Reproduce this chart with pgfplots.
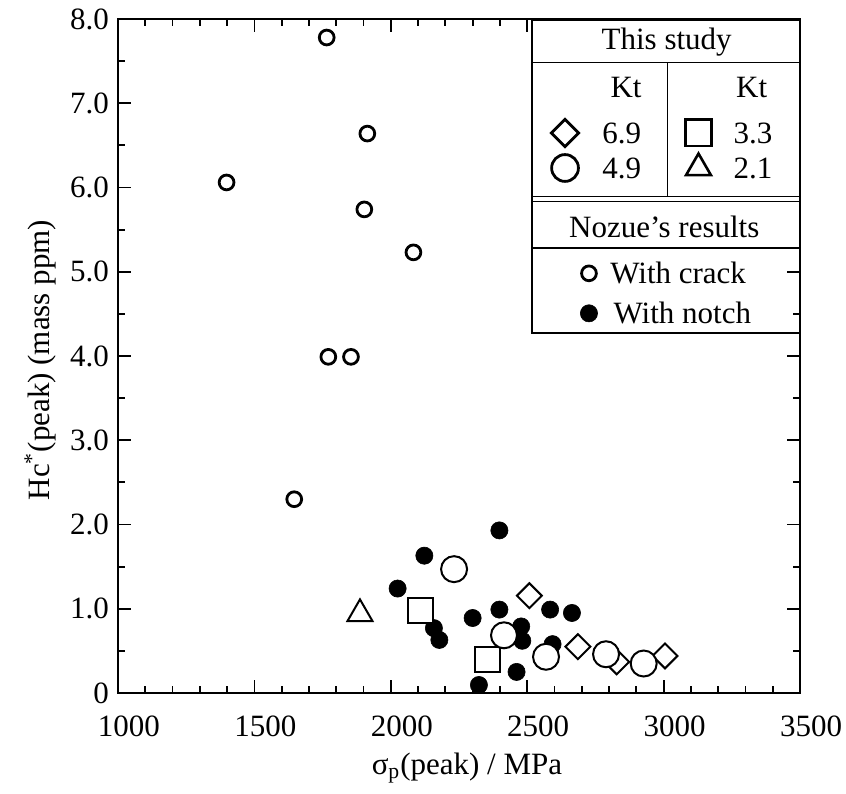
\documentclass[border=0pt]{standalone}
\usepackage{pgfplots}
\pgfplotsset{compat=1.18}
\usepackage{fontspec}
\setmainfont{Liberation Serif}

\pgfplotsset{
  myleg/.style={legend image code/.code={%
    \draw[##1] plot coordinates {(0pt,0pt)};
    \path[draw=none, fill=none] (-8pt,-8pt) rectangle (8pt,8pt);}},
  legbase/.style={legend style={draw=none, fill=none, inner sep=0pt, outer sep=0pt,
    anchor=north west, nodes={inner sep=0pt},
    /tikz/every odd column/.append style={column sep=0pt}}},
  hiddenleg/.style={scale only axis, width=341pt, height=337pt, hide axis,
    xmin=0, xmax=1, ymin=0, ymax=1, legbase},
}

\begin{document}
\begin{tikzpicture}
\begin{axis}[
  scale only axis, width=341pt, height=337pt,
  xmin=1000, xmax=3500, ymin=0, ymax=8,
  xtick={1000,1500,2000,2500,3000,3500},
  xticklabels={1000,1500,2000,2500,3000,3500},
  ytick={0,1,2,3,4,5,6,7,8},
  yticklabels={0,1.0,2.0,3.0,4.0,5.0,6.0,7.0,8.0},
  minor x tick num=4, minor y tick num=1,
  tick align=inside,
  major tick length=6.5pt, minor tick length=3.5pt,
  every tick/.style={black, line width=0.9pt},
  axis line style={line width=1pt},
  tick label style={font=\fontsize{15.5}{18}\selectfont},
  xticklabel style={xshift=5.5pt, yshift=-8pt},
  yticklabel style={xshift=-1pt},
  label style={font=\fontsize{15.5}{18}\selectfont},
  xlabel={σ\textsubscript{p}(peak) / MPa},
  ylabel={Hc\textsuperscript{*}(peak) (mass ppm)},
  xlabel style={at={(axis description cs:0.5117,-0.1113)}, anchor=center},
  ylabel style={at={(axis description cs:-0.1144,0.494)}, anchor=center},
  clip=false,
  legbase,
  legend style={at={(axis description cs:0.6671,0.6464)}, row sep=4pt},
]
\coordinate (O) at (rel axis cs:0,0);
% Nozue's results, with crack
\addplot[only marks, mark=*, mark size=3.7pt, mark options={fill=white, draw=black, line width=1.4pt}, myleg]
coordinates {(1765,7.78) (1914,6.64) (1398,6.06) (1903,5.74) (2083,5.23) (1771,3.99) (1854,3.99) (1646,2.30)};
\addlegendentry{\mbox{}}
% Nozue's results, with notch
\addplot[only marks, mark=*, mark size=4.3pt, mark options={fill=black, draw=black, line width=0.3pt}, myleg]
coordinates {(2398,1.93) (2123,1.63) (2025,1.24) (2158,0.77) (2178,0.63) (2300,0.89) (2398,0.99) (2461,0.25) (2323,0.095) (2478,0.79) (2482,0.62) (2584,0.99) (2664,0.95) (2593,0.58)};
\addlegendentry{\mbox{}}
% This study Kt = 6.9
\addplot[forget plot, only marks, mark=square*, mark size=4.4pt, mark options={rotate=45, fill=white, draw=black, line width=1pt}]
coordinates {(2508,1.155) (2686,0.55) (2828,0.37) (3005,0.44)};
% Kt = 3.3
\addplot[forget plot, only marks, mark=square*, mark size=6.2pt, mark options={fill=white, draw=black, line width=1pt}]
coordinates {(2108,0.975) (2354,0.40)};
% Kt = 2.1
\addplot[forget plot, only marks, mark=triangle*, mark size=7.2pt, mark options={fill=white, draw=black, line width=1pt}]
coordinates {(1887,0.94)};
% Kt = 4.9
\addplot[forget plot, only marks, mark=*, mark size=6.5pt, mark options={fill=white, draw=black, line width=1pt}]
coordinates {(2232,1.47) (2415,0.685) (2569,0.43) (2789,0.46) (2927,0.35)};
\end{axis}
% legend box
\begin{scope}[shift={(O)}]
\begin{scope}[x=0.5pt, y=-0.5pt, shift={(-118,-693)}]
\fill[white] (531.7,20) rectangle (800,248.3);
\draw[line width=0.9pt] (531.7,20) rectangle (800,333.3);
\draw[line width=0.8pt] (531.7,62.7) -- (800,62.7);
\draw[line width=0.8pt] (667.3,62.7) -- (667.3,196.7);
\draw[line width=0.8pt] (531.7,196.7) -- (800,196.7);
\draw[line width=0.8pt] (531.7,201.7) -- (800,201.7);
\draw[line width=0.8pt] (531.7,248.3) -- (800,248.3);
\begin{scope}[every node/.style={font=\fontsize{15.5}{18}\selectfont, inner sep=0pt}]
\node at (666.7,41.7) {This study};
\node at (626,87.3) {Kt};
\node at (751.7,87.3) {Kt};
\node at (621.7,133) {6.9};
\node at (621.7,168) {4.9};
\node at (753,133) {3.3};
\node at (753,168) {2.1};
\node at (664.3,226.7) {Nozue’s results};
\node[anchor=west] at (610,273.3) {With crack};
\node[anchor=west] at (613.3,313.3) {With notch};
\end{scope}
\end{scope}
\end{scope}
% hidden axes carrying the "This study" legend symbols
\begin{axis}[hiddenleg, legend style={at={(axis description cs:0.632,0.8546)}, row sep=1.5pt}]
\addlegendimage{only marks, mark=square*, mark size=4.8pt, mark options={rotate=45, fill=white, draw=black, line width=1.4pt}, myleg}
\addlegendentry{\mbox{}}
\addlegendimage{only marks, mark=*, mark size=6.7pt, mark options={fill=white, draw=black, line width=1.4pt}, myleg}
\addlegendentry{\mbox{}}
\end{axis}
\begin{axis}[hiddenleg, legend style={at={(axis description cs:0.8277,0.8546)}, row sep=1.5pt}]
\addlegendimage{only marks, mark=square*, mark size=6.6pt, mark options={fill=white, draw=black, line width=1.3pt}, myleg}
\addlegendentry{\mbox{}}
\addlegendimage{only marks, mark=triangle*, mark size=7.2pt, mark options={fill=white, draw=black, line width=1.3pt}, myleg}
\addlegendentry{\mbox{}}
\end{axis}
\pgfresetboundingbox
\begin{scope}[shift={(O)}]
\begin{scope}[x=0.5pt, y=-0.5pt, shift={(-118,-693)}]
\path[use as bounding box] (0,0) rectangle (846,793);
\end{scope}
\end{scope}
\end{tikzpicture}
\end{document}
